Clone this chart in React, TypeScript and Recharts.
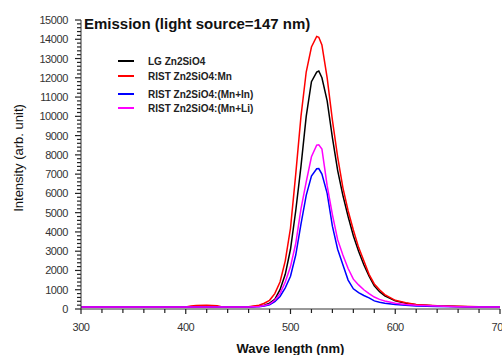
import React from 'react';
import { LineChart, Line, XAxis, YAxis } from 'recharts';

const wavelengths = [300, 400, 405, 410, 420, 430, 435, 440, 460, 470, 475, 480, 485, 490, 495, 500, 505, 510, 515, 520, 525, 527, 530, 535, 540, 545, 550, 555, 560, 565, 570, 575, 580, 585, 590, 600, 610, 620, 640, 660, 680, 700];
const lgZn2SiO4 = [100, 100, 100, 100, 100, 100, 100, 100, 110, 150, 200, 300, 500, 1000, 1800, 3100, 5100, 7400, 10000, 11800, 12300, 12350, 12000, 10800, 8900, 7200, 5900, 4800, 3800, 3000, 2300, 1700, 1200, 900, 680, 420, 300, 220, 160, 130, 110, 100];
const ristMn = [100, 100, 150, 180, 190, 170, 100, 100, 120, 200, 300, 450, 800, 1400, 2500, 4200, 7000, 10000, 12300, 13600, 14150, 14100, 13700, 12000, 9800, 7900, 6300, 5100, 4100, 3200, 2500, 1800, 1300, 1000, 750, 450, 320, 230, 170, 140, 120, 100];
const ristMnIn = [100, 100, 100, 100, 100, 100, 100, 100, 105, 120, 160, 220, 380, 650, 1100, 1700, 2800, 4400, 5900, 6900, 7280, 7290, 7000, 6000, 4300, 3100, 2300, 1500, 1050, 850, 700, 580, 420, 350, 300, 230, 190, 160, 130, 115, 105, 100];
const ristMnLi = [100, 100, 100, 100, 100, 100, 100, 100, 110, 130, 180, 250, 450, 800, 1400, 2200, 3400, 5200, 6600, 7900, 8500, 8520, 8300, 6400, 4900, 3600, 2800, 2100, 1550, 1250, 1000, 800, 620, 500, 420, 300, 230, 190, 150, 120, 110, 100];

const seriesNames = ['LG Zn2SiO4', 'RIST Zn2SiO4:Mn', 'RIST Zn2SiO4:(Mn+In)', 'RIST Zn2SiO4:(Mn+Li)'];
const seriesKeys = ['lg', 'mn', 'mnIn', 'mnLi'];
const seriesColors = ['#000000', '#ff0000', '#0000ff', '#ff00ff'];

const xTicks = [300, 320, 340, 360, 380, 400, 420, 440, 460, 480, 500, 520, 540, 560, 580, 600, 620, 640, 660, 680, 700];
const yTicks: number[] = [];
for (let v = 0; v <= 15000; v += 200) yTicks.push(v);

const data = wavelengths.map((w, i) => ({
  w,
  lg: lgZn2SiO4[i],
  mn: ristMn[i],
  mnIn: ristMnIn[i],
  mnLi: ristMnLi[i],
}));

const FONT = '"Liberation Sans", Arial, sans-serif';

const YTick = (props: any) => {
  const { x, y, payload } = props;
  const major = payload.value % 1000 === 0;
  return (
    <g>
      <line x1={x - (major ? 6 : 4)} x2={x} y1={y} y2={y} stroke="#222" strokeWidth={1.2} />
      {major && (
        <text x={x - 13} y={y} textAnchor="end" dominantBaseline="central" fontSize={11} fontFamily={FONT} fill="#333" letterSpacing={-0.4}>
          {payload.value}
        </text>
      )}
    </g>
  );
};

const XTick = (props: any) => {
  const { x, y, payload } = props;
  const major = payload.value % 100 === 0;
  return (
    <g>
      <line x1={x} x2={x} y1={y} y2={y + (major ? 5 : 4)} stroke="#222" strokeWidth={1.2} />
      {major && (
        <text x={x} y={y + 18} textAnchor="middle" dominantBaseline="central" fontSize={11} fontFamily={FONT} fill="#333" letterSpacing={-0.4}>
          {payload.value}
        </text>
      )}
    </g>
  );
};

const YLabel = () => {
  const cx = 18;
  const cy = 158;
  return (
    <text x={cx} y={cy} transform={`rotate(-90 ${cx} ${cy})`} textAnchor="middle" dominantBaseline="central" fontSize={13} fontFamily={FONT} fill="#111">
      Intensity (arb. unit)
    </text>
  );
};

const XLabel = (props: any) => {
  const vb = props.viewBox;
  return (
    <text x={vb.x + vb.width / 2} y={348} textAnchor="middle" dominantBaseline="central" fontSize={13} fontWeight="bold" fontFamily={FONT} fill="#111">
      Wave length (nm)
    </text>
  );
};

const legendTops = [61, 76, 94, 108];

export default function App() {
  return (
    <div style={{ position: 'absolute', left: 0, top: 0, width: 502, height: 355, background: '#fff', overflow: 'hidden' }}>
      <LineChart width={502} height={355} data={data} margin={{ top: 20, right: 2, bottom: 0, left: 0 }}>
        <XAxis
          xAxisId="top"
          orientation="top"
          dataKey="w"
          type="number"
          domain={[300, 700]}
          height={0}
          tick={false}
          tickLine={false}
          axisLine={{ stroke: '#999' }}
        />
        <XAxis
          dataKey="w"
          type="number"
          domain={[300, 700]}
          ticks={xTicks}
          interval={0}
          height={46}
          tickSize={0}
          tickMargin={0}
          tickLine={false}
          axisLine={{ stroke: '#333' }}
          tick={<XTick />}
          label={<XLabel />}
        />
        <YAxis
          type="number"
          domain={[0, 15000]}
          ticks={yTicks}
          interval={0}
          width={81}
          tickSize={0}
          tickMargin={0}
          tickLine={false}
          axisLine={{ stroke: '#333' }}
          tick={<YTick />}
          label={<YLabel />}
        />
        {seriesKeys.map((k, i) => (
          <Line
            key={k}
            xAxisId={0}
            dataKey={k}
            type="linear"
            stroke={seriesColors[i]}
            strokeWidth={1.5}
            dot={false}
            isAnimationActive={false}
          />
        ))}
      </LineChart>
      <div
        style={{
          position: 'absolute',
          left: 84,
          top: 15,
          paddingRight: 8,
          background: '#fff',
          fontFamily: FONT,
          fontWeight: 'bold',
          fontSize: 15,
          lineHeight: '18px',
          color: '#111',
          whiteSpace: 'nowrap',
        }}
      >
        Emission (light source=147 nm)
      </div>
      {seriesNames.map((n, i) => (
        <div
          key={n}
          style={{
            position: 'absolute',
            left: 118,
            top: legendTops[i] - 7,
            height: 14,
            display: 'flex',
            alignItems: 'center',
            fontFamily: FONT,
            fontWeight: 'bold',
            fontSize: 10,
            color: '#222',
            whiteSpace: 'nowrap',
          }}
        >
          <span style={{ display: 'inline-block', width: 16, height: 2, background: seriesColors[i], marginRight: 14 }} />
          {n}
        </div>
      ))}
    </div>
  );
}
